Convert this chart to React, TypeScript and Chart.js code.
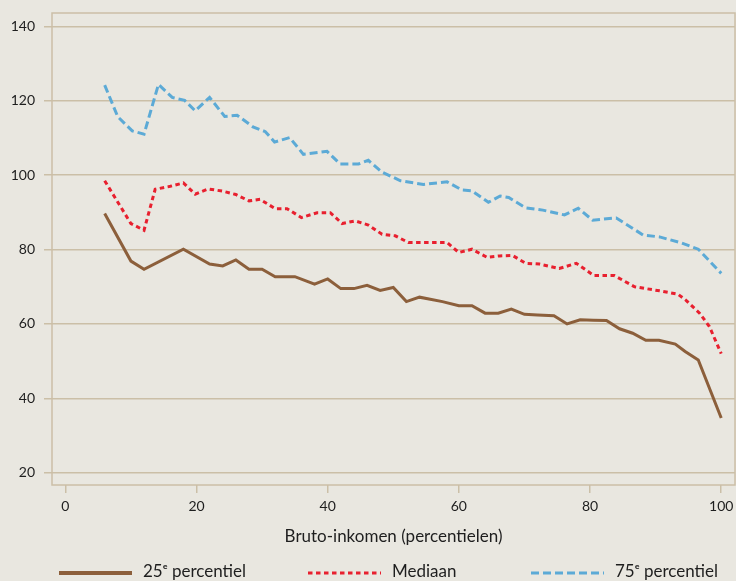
import React, { useEffect, useRef } from "react";
import { Chart, registerables } from "chart.js";

Chart.register(...registerables);

// ---- data ----
const X_TICKS = [0, 20, 40, 60, 80, 100];
const Y_TICKS = [20, 40, 60, 80, 100, 120, 140];

const P25_LABEL = "25ᵉ percentiel";
const MED_LABEL = "Mediaan";
const P75_LABEL = "75ᵉ percentiel";
const X_TITLE = "Bruto-inkomen (percentielen)";

const P25_X = [6, 10, 12, 18, 22, 24, 26, 28, 30, 32, 35, 38, 40, 42, 44, 46, 48, 50, 52, 54, 57.5, 60, 62, 64, 66, 68, 70, 72, 74.5, 76.5, 78.5, 80.5, 82.5, 84.5, 86.5, 88.5, 90.5, 93, 94.5, 96.5, 100];
const P25_Y = [89.7, 76.9, 74.7, 80.1, 76.1, 75.6, 77.2, 74.7, 74.7, 72.7, 72.7, 70.7, 72.1, 69.5, 69.5, 70.4, 69.0, 69.8, 66.0, 67.2, 66.0, 64.9, 64.9, 62.9, 62.9, 64.0, 62.6, 62.4, 62.2, 60.0, 61.1, 61.0, 60.9, 58.7, 57.5, 55.6, 55.6, 54.6, 52.6, 50.3, 34.7];

const MED_X = [6, 10, 12, 13.7, 16, 18, 19.8, 21.8, 24, 26, 28, 29.7, 32, 33.8, 36, 38.4, 40.4, 42.2, 44.2, 46.2, 48.3, 50.3, 52.3, 58.2, 60, 62, 64.3, 66.2, 68.2, 70.2, 72.3, 75.3, 77.9, 80.6, 83.7, 86.8, 90.6, 93.4, 94.6, 96.7, 98.2, 100];
const MED_Y = [98.5, 87.0, 85.2, 96.2, 97.0, 97.9, 94.9, 96.3, 95.7, 94.8, 93.1, 93.5, 91.0, 91.0, 88.6, 89.9, 89.9, 87.0, 87.7, 86.6, 84.1, 83.7, 81.9, 81.9, 79.2, 80.1, 77.9, 78.3, 78.4, 76.3, 76.1, 74.9, 76.3, 73.0, 73.0, 70.0, 68.9, 68.0, 66.4, 62.9, 59.3, 52.0];

const P75_X = [6, 8, 10.2, 12, 14.2, 16.3, 18.2, 19.8, 22, 24.3, 26.2, 28.6, 30.5, 31.9, 34.2, 36.3, 39.9, 41.9, 44.7, 46.2, 48.2, 51.1, 54.6, 58.2, 60.5, 62, 64.5, 66.3, 67.6, 70.2, 72.8, 76.1, 78.2, 80.4, 84, 88.1, 90.6, 93.9, 96.5, 100];
const P75_Y = [124.2, 115.7, 111.9, 111.0, 124.4, 120.9, 120.1, 117.3, 120.9, 115.8, 116.1, 113.0, 111.7, 108.9, 110.1, 105.6, 106.4, 103.0, 103.0, 104.0, 100.9, 98.5, 97.5, 98.2, 96.0, 95.8, 92.7, 94.4, 94.0, 91.2, 90.6, 89.3, 91.1, 87.9, 88.5, 83.9, 83.4, 81.8, 80.1, 73.6];

// ---- styles ----
const BG = "#e9e7e0";
const GRID = "#cbbfa7";
const TEXT = "#1e1e1e";
const BROWN = "#8c5f3b";
const RED = "#e8202f";
const BLUE = "#5caad6";
const FONT = "Lato, 'Open Sans', sans-serif";

// legend layout (pixels)
const LEGEND_LEFT = [59, 308, 531];
const LEGEND_Y = 573;
const LEGEND_LINE_W = 73;
const LEGEND_GAP = 11;

const zip = (xs: number[], ys: number[]) => xs.map((x, i) => ({ x, y: ys[i] }));

const noScalePadding = (s: any) => {
  s.paddingTop = 0;
  s.paddingBottom = 0;
  s.paddingLeft = 0;
  s.paddingRight = 0;
};

const boxPlugin = {
  id: "frameBox",
  beforeDatasetsDraw(chart: any) {
    const { ctx, chartArea } = chart;
    ctx.save();
    ctx.strokeStyle = GRID;
    ctx.lineWidth = 1.5;
    ctx.strokeRect(chartArea.left, chartArea.top, chartArea.right - chartArea.left, chartArea.bottom - chartArea.top);
    ctx.restore();
  },
};

const legendPlugin = {
  id: "lineLegend",
  afterDraw(chart: any) {
    const { ctx } = chart;
    ctx.save();
    chart.data.datasets.forEach((ds: any, i: number) => {
      const x0 = LEGEND_LEFT[i];
      ctx.beginPath();
      ctx.strokeStyle = ds.borderColor;
      ctx.lineWidth = i === 0 ? 4 : 3;
      ctx.setLineDash(ds.borderDash || []);
      ctx.moveTo(x0, LEGEND_Y);
      ctx.lineTo(x0 + LEGEND_LINE_W, LEGEND_Y);
      ctx.stroke();
      ctx.setLineDash([]);
      ctx.fillStyle = TEXT;
      ctx.font = `17px ${FONT}`;
      ctx.textBaseline = "middle";
      ctx.textAlign = "left";
      ctx.fillText(ds.label, x0 + LEGEND_LINE_W + LEGEND_GAP, LEGEND_Y - 1);
    });
    ctx.restore();
  },
};

export default function App() {
  const ref = useRef<HTMLCanvasElement | null>(null);

  useEffect(() => {
    document.body.style.margin = "0";
    document.body.style.background = BG;
    const canvas = ref.current;
    if (!canvas) return;
    const chart = new Chart(canvas, {
      type: "line",
      data: {
        datasets: [
          {
            label: P25_LABEL,
            data: zip(P25_X, P25_Y),
            borderColor: BROWN,
            backgroundColor: BROWN,
            borderWidth: 3,
            pointRadius: 0,
            tension: 0,
          },
          {
            label: MED_LABEL,
            data: zip(MED_X, MED_Y),
            borderColor: RED,
            backgroundColor: RED,
            borderWidth: 3,
            borderDash: [4.5, 3.5],
            pointRadius: 0,
            tension: 0,
          },
          {
            label: P75_LABEL,
            data: zip(P75_X, P75_Y),
            borderColor: BLUE,
            backgroundColor: BLUE,
            borderWidth: 3,
            borderDash: [8, 4],
            pointRadius: 0,
            tension: 0,
          },
        ],
      },
      options: {
        animation: false,
        responsive: true,
        maintainAspectRatio: false,
        layout: { padding: { top: 13, right: 1, left: 0, bottom: 34 } },
        scales: {
          x: {
            type: "linear",
            min: -2.03,
            max: 102.1,
            afterBuildTicks: (s: any) => {
              s.ticks = X_TICKS.map((v) => ({ value: v }));
            },
            afterFit: (s: any) => {
              s.height = 62;
              noScalePadding(s);
            },
            grid: { drawOnChartArea: false, color: GRID, tickLength: 8, lineWidth: 1.5 },
            border: { display: false },
            ticks: { color: TEXT, font: { family: FONT, size: 14 }, padding: 5, maxRotation: 0 },
            title: {
              display: true,
              text: X_TITLE,
              color: TEXT,
              font: { family: FONT, size: 17 },
              padding: { top: 0, bottom: 0 },
            },
          },
          y: {
            min: 16.7,
            max: 143.6,
            afterBuildTicks: (s: any) => {
              s.ticks = Y_TICKS.map((v) => ({ value: v }));
            },
            afterFit: (s: any) => {
              s.width = 52;
              noScalePadding(s);
            },
            grid: { color: GRID, tickLength: 8, lineWidth: 1.5 },
            border: { display: false },
            ticks: { color: TEXT, font: { family: FONT, size: 14 }, padding: 9 },
          },
        },
        plugins: {
          legend: { display: false },
          tooltip: { enabled: false },
        },
      },
      plugins: [boxPlugin, legendPlugin],
    } as any);
    return () => chart.destroy();
  }, []);

  return (
    <div style={{ position: "fixed", left: 0, top: 0, width: 736, height: 581, background: BG }}>
      <canvas ref={ref} />
    </div>
  );
}
